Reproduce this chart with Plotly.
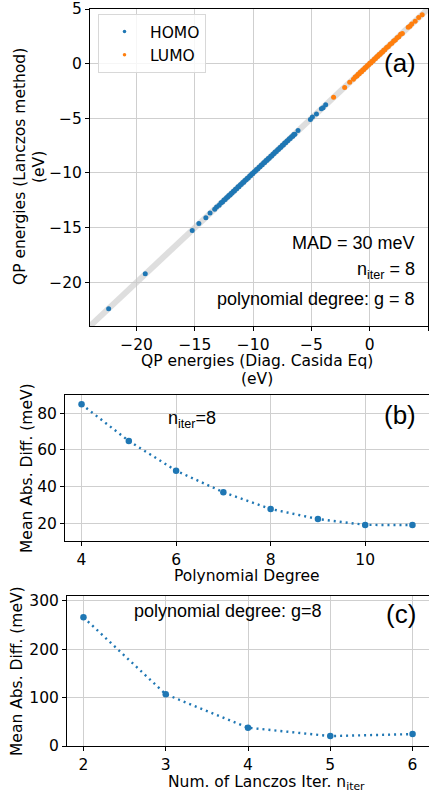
import plotly.graph_objects as go

# ---------------- data ----------------
homo_diag = [-22.40, -19.26, -15.23, -14.66, -14.06, -13.70, -13.30, -13.14, -12.92, -12.76,
             -12.63, -12.51, -12.40, -12.29, -12.18, -12.09, -11.98, -11.90, -11.81, -11.70,
             -11.61, -11.52, -11.41, -11.30, -11.22, -11.10, -11.01, -10.90, -10.81, -10.72,
             -10.60, -10.51, -10.42, -10.30, -10.21, -10.11, -10.02, -9.91, -9.80, -9.72,
             -9.61, -9.50, -9.41, -9.30, -9.22, -9.10, -9.01, -8.90, -8.80, -8.71,
             -8.62, -8.50, -8.41, -8.31, -8.20, -8.12, -8.01, -7.90, -7.81, -7.70,
             -7.62, -7.50, -7.41, -7.30, -7.21, -7.10, -7.01, -6.90, -6.82, -6.71,
             -6.60, -6.52, -6.42, -6.15, -5.09, -4.92, -4.57, -4.15, -4.00, -3.78]
homo_lanczos = [-22.43, -19.23, -15.26, -14.63, -14.09, -13.67, -13.33, -13.11, -12.95, -12.73,
                -12.66, -12.48, -12.43, -12.26, -12.21, -12.06, -12.01, -11.87, -11.84, -11.67,
                -11.64, -11.49, -11.44, -11.27, -11.25, -11.07, -11.04, -10.87, -10.84, -10.69,
                -10.63, -10.48, -10.45, -10.27, -10.24, -10.08, -10.05, -9.88, -9.83, -9.69,
                -9.64, -9.47, -9.44, -9.27, -9.25, -9.07, -9.04, -8.87, -8.83, -8.68,
                -8.65, -8.47, -8.44, -8.28, -8.23, -8.09, -8.04, -7.87, -7.84, -7.67,
                -7.65, -7.47, -7.44, -7.27, -7.24, -7.07, -7.04, -6.87, -6.85, -6.68,
                -6.63, -6.49, -6.45, -6.12, -5.12, -4.89, -4.60, -4.12, -4.03, -3.75]
lumo_diag = [-3.10, -2.15, -1.72, -1.40, -1.25, -1.10, -1.00, -0.90, -0.80, -0.70,
             -0.60, -0.50, -0.40, -0.30, -0.20, -0.10, 0.00, 0.10, 0.20, 0.30,
             0.40, 0.50, 0.60, 0.70, 0.80, 0.90, 1.00, 1.10, 1.20, 1.30,
             1.45, 1.60, 1.75, 1.90, 2.05, 2.20, 2.35, 2.50, 2.65, 2.80,
             3.30, 3.45, 3.60, 3.90, 4.20, 4.50]
lumo_lanczos = [-3.07, -2.18, -1.69, -1.43, -1.22, -1.13, -0.97, -0.93, -0.77, -0.73,
                -0.57, -0.53, -0.37, -0.33, -0.17, -0.13, 0.03, 0.07, 0.23, 0.27,
                0.43, 0.47, 0.63, 0.67, 0.83, 0.87, 1.03, 1.07, 1.23, 1.27,
                1.48, 1.57, 1.78, 1.87, 2.08, 2.17, 2.38, 2.47, 2.68, 2.77,
                3.33, 3.42, 3.63, 3.87, 4.23, 4.47]
diag_line = [-24, 5]

poly_degree = [4, 5, 6, 7, 8, 9, 10, 11]
mad_poly = [84.9, 64.9, 48.7, 36.9, 27.8, 22.3, 19.1, 19.0]

n_iter = [2, 3, 4, 5, 6]
mad_iter = [266, 107, 37.8, 20.5, 24.6]

W, H = 429, 793
BLUE = "#1f77b4"
ORANGE = "#ff7f0e"
TICKF = dict(family="DejaVu Sans", size=15.5, color="black")
ANNF = "Liberation Sans"


def px(x):
    return x / W


def py(y):
    return 1 - y / H


fig = go.Figure()

# Panel (a)
fig.add_trace(go.Scatter(x=diag_line, y=diag_line, mode="lines",
                         line=dict(color="rgba(200,200,200,0.6)", width=6),
                         showlegend=False, xaxis="x", yaxis="y", hoverinfo="skip"))
fig.add_trace(go.Scatter(x=homo_diag, y=homo_lanczos, mode="markers", name="HOMO",
                         marker=dict(color=BLUE, size=5), xaxis="x", yaxis="y",
                         showlegend=False, legendgroup="homo"))
fig.add_trace(go.Scatter(x=lumo_diag, y=lumo_lanczos, mode="markers", name="LUMO",
                         marker=dict(color=ORANGE, size=5), xaxis="x", yaxis="y",
                         showlegend=False, legendgroup="lumo"))
# legend entries (small legend markers, like the reference)
fig.add_trace(go.Scatter(x=[None], y=[None], mode="markers", name="HOMO",
                         marker=dict(color=BLUE, size=3.5), xaxis="x", yaxis="y",
                         legendgroup="homo"))
fig.add_trace(go.Scatter(x=[None], y=[None], mode="markers", name="LUMO",
                         marker=dict(color=ORANGE, size=3.5), xaxis="x", yaxis="y",
                         legendgroup="lumo"))

# Panel (b)
fig.add_trace(go.Scatter(x=poly_degree, y=mad_poly, mode="lines+markers",
                         line=dict(color=BLUE, width=2.4, dash="2px,4px"),
                         marker=dict(color=BLUE, size=6.5),
                         showlegend=False, xaxis="x2", yaxis="y2"))

# Panel (c)
fig.add_trace(go.Scatter(x=n_iter, y=mad_iter, mode="lines+markers",
                         line=dict(color=BLUE, width=2.4, dash="2px,4px"),
                         marker=dict(color=BLUE, size=6.5),
                         showlegend=False, xaxis="x3", yaxis="y3"))

axis_common = dict(showline=True, linecolor="black", linewidth=1, mirror=True,
                   ticks="outside", ticklen=4, tickcolor="black", tickwidth=1,
                   showgrid=True, gridcolor="#cfcfcf", gridwidth=1,
                   zeroline=False, tickfont=TICKF, automargin=False)

fig.update_layout(
    template="none",
    width=W, height=H,
    margin=dict(l=0, r=0, t=0, b=0, autoexpand=False),
    paper_bgcolor="white", plot_bgcolor="white",
    showlegend=True,
    legend=dict(x=px(98), y=py(14), xanchor="left", yanchor="top",
                bgcolor="rgba(255,255,255,0.8)", bordercolor="#d8d8d8", borderwidth=1,
                font=dict(family="DejaVu Sans", size=15.5, color="black"),
                itemwidth=41, tracegroupgap=0),
    xaxis=dict(domain=[px(90), px(428)], range=[-24, 5], tickvals=[-20, -15, -10, -5, 0, 5],
               anchor="y", **axis_common),
    yaxis=dict(domain=[py(326), py(9)], range=[-24, 5], tickvals=[-20, -15, -10, -5, 0, 5],
               anchor="x", **axis_common),
    xaxis2=dict(domain=[px(65), 1], range=[3.65, 11.35], tickvals=[4, 6, 8, 10],
                anchor="y2", **axis_common),
    yaxis2=dict(domain=[py(541), py(395)], range=[10.3, 90], tickvals=[20, 40, 60, 80],
                anchor="x2", **axis_common),
    xaxis3=dict(domain=[px(67), 1], range=[1.8, 6.2], tickvals=[2, 3, 4, 5, 6],
                anchor="y3", **axis_common),
    yaxis3=dict(domain=[py(746), py(596)], range=[0, 310], tickvals=[0, 100, 200, 300],
                anchor="x3", **axis_common),
)

TITLEF = dict(family="DejaVu Sans", size=15.5, color="black")
annotations = [
    # axis titles panel a
    dict(x=px(20), y=py(167), text="QP energies (Lanczos method)", textangle=-90,
         font=TITLEF),
    dict(x=px(39), y=py(167), text="(eV)", textangle=-90, font=TITLEF),
    dict(x=px(257), y=py(361), text="QP energies (Diag. Casida Eq)", font=TITLEF),
    dict(x=px(257), y=py(379), text="(eV)", font=TITLEF),
    # panel b titles
    dict(x=px(27), y=py(468), text="Mean Abs. Diff. (meV)", textangle=-90, font=TITLEF),
    dict(x=px(247), y=py(576), text="Polynomial Degree", font=TITLEF),
    # panel c titles
    dict(x=px(17), y=py(671), text="Mean Abs. Diff. (meV)", textangle=-90, font=TITLEF),
    dict(x=px(266), y=py(783), text="Num. of Lanczos Iter. n<sub>iter</sub>", font=TITLEF),
    # panel texts
    dict(x=px(418), y=py(63), text="(a)", xanchor="right",
         font=dict(family=ANNF, size=26, color="black")),
    dict(x=px(417), y=py(243), text="MAD = 30 meV", xanchor="right",
         font=dict(family=ANNF, size=18, color="black")),
    dict(x=px(417), y=py(270), text="n<sub>iter</sub> = 8", xanchor="right",
         font=dict(family=ANNF, size=18, color="black")),
    dict(x=px(417), y=py(299), text="polynomial degree: g = 8", xanchor="right",
         font=dict(family=ANNF, size=18, color="black")),
    dict(x=px(418), y=py(415), text="(b)", xanchor="right",
         font=dict(family=ANNF, size=26, color="black")),
    dict(x=px(166), y=py(420), text="n<sub>iter</sub>=8", xanchor="left",
         font=dict(family=ANNF, size=18, color="black")),
    dict(x=px(418), y=py(614), text="(c)", xanchor="right",
         font=dict(family=ANNF, size=26, color="black")),
    dict(x=px(132), y=py(611), text="polynomial degree: g=8", xanchor="left",
         font=dict(family=ANNF, size=18, color="black")),
]
for a in annotations:
    a.setdefault("xanchor", "center")
    a.update(xref="paper", yref="paper", showarrow=False, yanchor="middle")
fig.update_layout(annotations=annotations)

fig.write_html("out.html", config={"displayModeBar": False},
               post_script="document.body.style.margin='0';document.body.style.overflow='hidden';")
